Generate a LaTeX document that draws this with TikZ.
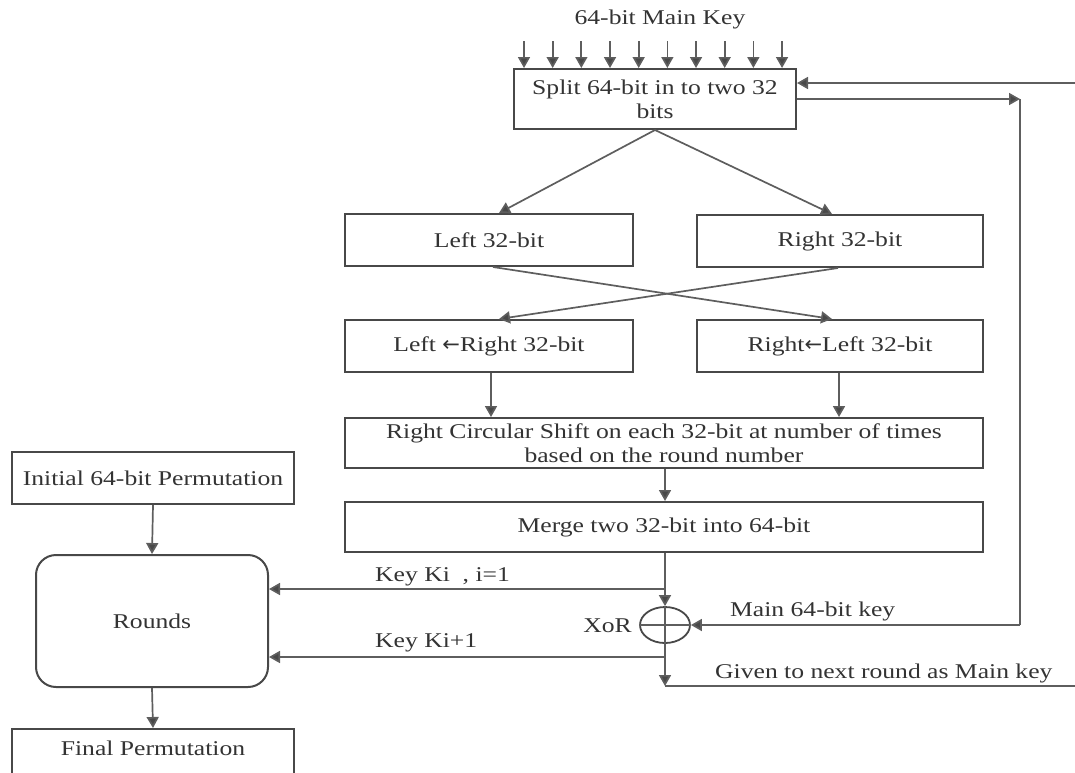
\documentclass[tikz,border=0pt]{standalone}
\usepackage{fontspec}
\setmainfont{Liberation Serif}[FakeStretch=1.22]
\newfontfamily\arrowfont{DejaVu Sans}
\usetikzlibrary{arrows.meta,calc,shapes.geometric}
\definecolor{ink}{HTML}{333333}
\definecolor{edge}{HTML}{484848}
\definecolor{wire}{HTML}{5E5E5E}
\newcommand{\larr}{{\arrowfont ←}}

\begin{document}
\begin{tikzpicture}[x=1pt,y=-1pt,
  font=\fontsize{21}{24}\selectfont, text=ink,
  box/.style={draw=edge,line width=2pt,fill=white,inner sep=0pt,align=center},
  wire/.style={draw=wire,line width=1.7pt},
  arr/.style={wire,-{Triangle[length=11pt,width=12pt,fill=edge]}},
  lbl/.style={inner sep=0pt}]
\useasboundingbox (0,0) rectangle (1075,772);
\clip (0,0) rectangle (1075,772);

% key schedule column
\node[lbl] (title) at (660,19) {64-bit Main Key};
\node[box,minimum width=282pt,minimum height=60pt] (split) at (655,99) {Split 64-bit in to two 32\\bits};
\node[box,minimum width=288pt,minimum height=52pt] (left) at (489,240) {Left 32-bit};
\node[box,minimum width=286pt,minimum height=52pt] (right) at (840,241) {Right 32-bit};
\node[box,minimum width=288pt,minimum height=52pt] (lleft) at (489,346) {Left \larr Right 32-bit};
\node[box,minimum width=286pt,minimum height=52pt] (lright) at (840,346) {Right\larr Left 32-bit};
\node[box,minimum width=638pt,minimum height=50pt] (shift) at (664,443) {Right Circular Shift on each 32-bit at number of times\\based on the round number};
\node[box,minimum width=638pt,minimum height=50pt] (merge) at (664,527) {Merge two 32-bit into 64-bit};
\node[draw=edge,line width=1.8pt,ellipse,minimum width=50pt,minimum height=36pt,inner sep=0pt] (xor) at (665,625) {};

% cipher rounds column
\node[box,minimum width=282pt,minimum height=52pt] (init) at (153,478) {Initial 64-bit Permutation};
\node[box,rounded corners=20pt,minimum width=232pt,minimum height=132pt] (rounds) at (152,621) {Rounds};
\node[box,minimum width=282pt,minimum height=60pt,text depth=0pt] (final) at (153,759) {\raisebox{22pt}{Final Permutation}};

% labels
\node[lbl,anchor=east] (xorlbl) at (632,626) {XoR};
\node[lbl,anchor=west] (mainlbl) at (730,611) {Main 64-bit key};
\node[lbl,anchor=west] (nextlbl) at (715,673) {Given to next round as Main key};
\node[lbl,anchor=west] (k1lbl) at (375,577) {Key Ki\ \ , i=1};
\node[lbl,anchor=west] (k2lbl) at (375,643) {Key Ki+1};

% ten input bits of the main key
\foreach \i in {0,...,9}
  \draw[arr] ($(split.north west)+({11+28.67*\i},-27)$) -- ($(split.north west)+({11+28.67*\i},0)$);

% split and swap
\draw[arr] (split.south) -- ([xshift=10pt]left.north);
\draw[arr] (split.south) -- ([xshift=-8pt]right.north);
\draw[arr] ([xshift=4pt]left.south) -- ([xshift=-8pt]lright.north);
\draw[arr] ([xshift=-2pt]right.south) -- ([xshift=10pt]lleft.north);
\draw[arr] ([xshift=2pt]lleft.south) -- ([xshift=2pt]lleft.south |- shift.north);
\draw[arr] ([xshift=-1pt]lright.south) -- ([xshift=-1pt]lright.south |- shift.north);
\draw[arr] (shift.south -| xor.north) -- (merge.north -| xor.north);

% merged key into the XoR and out to the rounds
\coordinate (k1) at (665,589);
\coordinate (k2) at (665,657);
\coordinate (down) at (665,686);
\coordinate (outR) at (1075,686);
\draw[wire] (merge.south -| xor.north) -- (k1);
\draw[arr] (k1) -- (xor.north);
\draw[arr] (k1) -- (k1 -| rounds.east);
\draw[wire] (xor.north) -- (xor.south);
\draw[wire] (xor.west) -- (xor.east);
\draw[arr] (xor.south) -- (down);
\draw[arr] (k2) -- (k2 -| rounds.east);
\draw[wire] (down) -- (outR);

% main key fed back from the split box
\coordinate (fbin) at (1075,83);
\coordinate (mk) at (1020,99);
\coordinate (mkc) at (1020,625);
\draw[arr] (fbin) -- (fbin -| split.east);
\draw[arr] (split.east |- mk) -- (mk);
\draw[wire] (mk) -- (mkc);
\draw[arr] (mkc) -- (xor.east);

% rounds chain
\draw[arr] (init.south) -- (rounds.north);
\draw[arr] (rounds.south) -- (final.north);
\end{tikzpicture}
\end{document}
